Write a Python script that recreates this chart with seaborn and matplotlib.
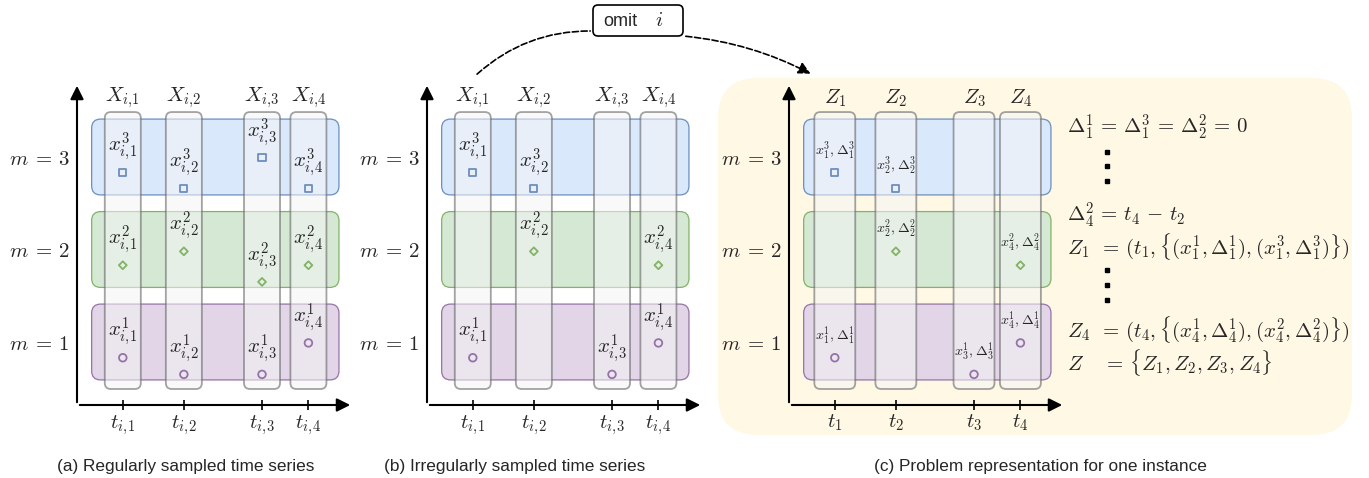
import numpy as np
import pandas as pd
import matplotlib.pyplot as plt
import seaborn as sns
from matplotlib.patches import FancyBboxPatch, FancyArrowPatch

sns.set_theme(style='white')
plt.rcParams['font.family'] = ['Liberation Sans', 'DejaVu Sans']
plt.rcParams['mathtext.fontset'] = 'cm'

# dados: tempos de amostragem e valores por modalidade
times = [1.0, 2.0, 3.28, 4.04]
modalities = [3, 2, 1]
vals_m3 = [2.83, 2.66, 2.99, 2.66]
vals_m2 = [1.83, 1.98, 1.65, 1.83]
vals_m1 = [0.83, 0.65, 0.65, 0.99]
# observado (1) ou ausente (0) na serie irregular
obs_m3 = [1, 1, 0, 0]
obs_m2 = [0, 1, 0, 1]
obs_m1 = [1, 0, 1, 1]
captions = ['(a) Regularly sampled time series',
            '(b) Irregularly sampled time series',
            '(c) Problem representation for one instance']

values = {3: vals_m3, 2: vals_m2, 1: vals_m1}
observed = {3: obs_m3, 2: obs_m2, 1: obs_m1}
row_fill = {3: '#dae8fc', 2: '#d5e8d4', 1: '#e1d5e7'}
row_edge = {3: '#6c8ebf', 2: '#82b366', 1: '#9673a6'}
row_marker = {3: 's', 2: 'D', 1: 'o'}
row_size = {3: 26, 2: 16, 1: 30}

W, H = 1369, 478
fig = plt.figure(figsize=(W / 100, H / 100), dpi=100)

# eixo de fundo em pixels
bg = fig.add_axes([0, 0, 1, 1])
bg.set_xlim(0, W)
bg.set_ylim(H, 0)
bg.axis('off')

XS, YS = 61.0, 92.5  # pixels por unidade


def px_axes(x0, y0, x1, y1):
    return fig.add_axes([x0 / W, 1 - y1 / H, (x1 - x0) / W, (y1 - y0) / H])


def draw_panel(left, kind):
    ax = px_axes(left, 83, left + 276, 405)
    ax.set_xlim(0.25, 4.77)
    ax.set_ylim(0.319, 3.8)
    ax.patch.set_visible(False)
    for s in ax.spines.values():
        s.set_visible(False)
    ax.annotate('', xy=(1, 0), xytext=(0, 0), xycoords='axes fraction',
                arrowprops=dict(arrowstyle='-|>', color='black', lw=1.5, mutation_scale=20))
    ax.annotate('', xy=(0, 1), xytext=(0, 0), xycoords='axes fraction',
                arrowprops=dict(arrowstyle='-|>', color='black', lw=1.5, mutation_scale=20))

    # linhas das modalidades
    for m in modalities:
        ax.add_patch(FancyBboxPatch((0.49, m - 0.41), 4.05, 0.82,
                                    boxstyle=f'round,pad=0,rounding_size={9 / XS}',
                                    mutation_aspect=XS / YS, fc=row_fill[m], ec=row_edge[m],
                                    lw=0.9, zorder=1))
    # colunas de tempo
    cw = 0.59 if kind != 'c' else 0.67
    for t in times:
        ax.add_patch(FancyBboxPatch((t - cw / 2, 0.492), cw, 2.994,
                                    boxstyle=f'round,pad=0,rounding_size={6 / XS}',
                                    mutation_aspect=XS / YS, fc=(0.96, 0.96, 0.96, 0.55),
                                    ec=(0.4, 0.4, 0.4, 0.6), lw=1.3, zorder=2))

    for m in modalities:
        mask = [True] * 4 if kind == 'a' else [bool(o) for o in observed[m]]
        df = pd.DataFrame({'t': times, 'v': values[m], 'k': np.arange(1, 5)})[mask]
        sns.scatterplot(data=df, x='t', y='v', marker=row_marker[m], s=row_size[m],
                        facecolor='none', edgecolor=row_edge[m], linewidth=1.3,
                        ax=ax, zorder=4)
        for _, r in df.iterrows():
            k = int(r['k'])
            if kind == 'c':
                lab = rf'$x^{{{m}}}_{{{k}}},\Delta^{{{m}}}_{{{k}}}$'
                ax.text(r['t'], r['v'] + 0.12, lab, ha='center', va='bottom', fontsize=10.2, zorder=5)
            else:
                lab = rf'$x^{{{m}}}_{{i,\!{k}}}$'
                ax.text(r['t'], r['v'] + 0.1, lab, ha='center', va='bottom', fontsize=15, zorder=5)

    for k, t in enumerate(times, 1):
        head = rf'$Z_{k}$' if kind == 'c' else rf'$X_{{i,\!{k}}}$'
        ax.text(t, 3.64, head, ha='center', va='center', fontsize=15)

    ax.set_xticks(times)
    if kind == 'c':
        ax.set_xticklabels([rf'$t_{k}$' for k in range(1, 5)])
    else:
        ax.set_xticklabels([rf'$t_{{i,\!{k}}}$' for k in range(1, 5)])
    ax.set_yticks(modalities)
    ax.set_yticklabels([rf'$m\:=\:{m}$' for m in modalities])
    ax.tick_params(axis='x', direction='inout', length=7, width=1.2, color='black',
                   labelsize=15, pad=2, bottom=True)
    ax.tick_params(axis='y', length=0, labelsize=15, pad=5)
    ax.set_xlabel('')
    ax.set_ylabel('')
    return ax


# painel amarelo (c)
bg.add_patch(FancyBboxPatch((718, 78), 634, 357, boxstyle='round,pad=0,rounding_size=40',
                            fc='#fff2cc', alpha=0.5, ec='none'))

draw_panel(77, 'a')
draw_panel(427, 'b')
draw_panel(789, 'c')

# caixa "omit i" e setas tracejadas
bg.add_patch(FancyBboxPatch((593, 5), 90, 31, boxstyle='round,pad=0,rounding_size=5',
                            fc='white', ec='black', lw=1.2))
bg.text(603, 21, 'omit', ha='left', va='center', fontsize=13)
bg.text(659, 20, r'$i$', ha='center', va='center', fontsize=15)
bg.add_patch(FancyArrowPatch((475, 76), (593, 31), arrowstyle='-', linestyle='--',
                             connectionstyle='arc3,rad=-0.2', color='black', lw=1.2))
bg.add_patch(FancyArrowPatch((683, 36), (813, 75), arrowstyle='-|>', linestyle='--',
                             connectionstyle='arc3,rad=-0.1', color='black', lw=1.2,
                             mutation_scale=18))

# equacoes
ex = 1067
fs = 15
bg.text(ex, 127, r'$\Delta^{1}_{1}\,=\,\Delta^{3}_{1}\,=\,\Delta^{2}_{2}\,=\,0$', va='center', fontsize=fs)
bg.text(ex, 215, r'$\Delta^{2}_{4}\,=\,t_4\,-\,t_2$', va='center', fontsize=fs)


def zline(k):
    items = [rf'(x^{{{m}}}_{{{k}}},\Delta^{{{m}}}_{{{k}}})'
             for m in sorted(modalities) if observed[m][k - 1]]
    return rf'$Z_{k}\ \,=\,(t_{k},\{{' + ','.join(items) + r'\})$'


bg.text(ex, 247, zline(1), va='center', fontsize=fs)
bg.text(ex, 330, zline(4), va='center', fontsize=fs)
bg.text(ex, 363, r'$Z\ \ \ \,=\,\{Z_1,Z_2,Z_3,Z_4\}$', va='center', fontsize=fs)
for yy in [152, 166, 181, 270, 285, 300]:
    bg.plot(1107, yy, marker='s', ms=2.2, color='black')

for x, c in zip([186, 515, 1040], captions):
    bg.text(x, 466, c, ha='center', va='center', fontsize=12.4)

fig.savefig('out.png', dpi=100)
